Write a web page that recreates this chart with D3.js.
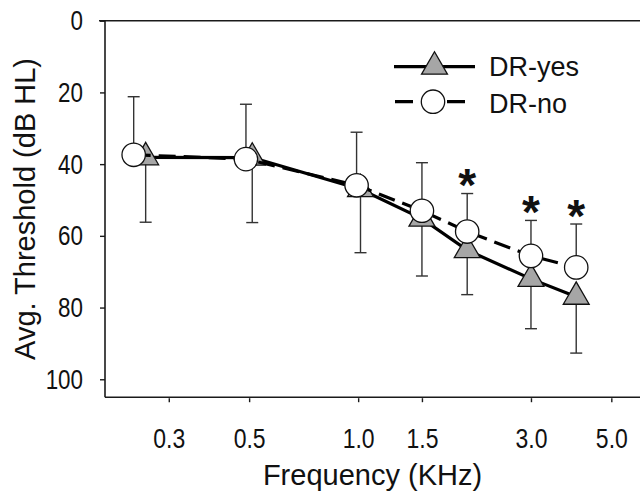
<!DOCTYPE html>
<html><head><meta charset="utf-8">
<script src="https://cdn.jsdelivr.net/npm/d3@7"></script>
<style>html,body{margin:0;padding:0;background:#fff;} svg{display:block}</style>
</head><body><svg id="chart" width="640" height="494"></svg>
<script>
// ---- data ----
const seriesNames = ["DR-yes", "DR-no"];
const freqYes = [0.259, 0.510, 1.015, 1.5, 2.0, 3.0, 4.0];   // kHz (slightly offset in the original)
const freqNo  = [0.240, 0.490, 0.990, 1.5, 2.0, 3.0, 4.0];
const meanYes = [38.1, 38.2, 47.0, 55.2, 64.0, 72.0, 77.0];   // dB HL
const sdYes   = [18.1, 18.1, 17.7, 16.0, 12.4, 13.9, 15.7];   // drawn downward
const meanNo  = [37.4, 38.6, 45.9, 53.0, 58.8, 65.6, 68.8];
const sdNo    = [16.2, 15.3, 14.8, 13.4, 10.6,  9.9, 12.1];   // drawn upward
const significant = [false, false, false, false, true, true, true];
const xTickValues = [0.3, 0.5, 1.0, 1.5, 3.0, 5.0];
const yTickValues = [0, 20, 40, 60, 80, 100];

(function () {
// ---- layout ----
const pLeft = 105, pRight = 640, pTop = 20.7, pBottom = 397.2;
const svg = d3.select("#chart");
const FONT = "'Liberation Sans', Arial, sans-serif";

const x = d3.scaleLog().domain([0.2, 6]).range([pLeft, pRight]);
const y = d3.scaleLinear().domain([0, 105]).range([pTop, pBottom]);

function squeeze(sel, f) {
  sel.each(function () {
    const w = this.getComputedTextLength();
    d3.select(this).attr("textLength", w * f).attr("lengthAdjust", "spacingAndGlyphs");
  });
}

// frame
const frame = svg.append("g").attr("stroke", "#1a1a1a").attr("stroke-width", 1.6).attr("fill", "none");
frame.append("line").attr("x1", pLeft - 6).attr("x2", pRight).attr("y1", y(0)).attr("y2", y(0));
frame.append("line").attr("x1", pLeft).attr("x2", pLeft).attr("y1", y(0)).attr("y2", pBottom);
frame.append("line").attr("x1", pLeft).attr("x2", pRight).attr("y1", pBottom).attr("y2", pBottom);

// y axis
const yAxis = svg.append("g").attr("transform", `translate(${pLeft},0)`)
  .call(d3.axisLeft(y).tickValues(yTickValues).tickSize(5).tickPadding(17).tickFormat(d3.format("d")));
yAxis.select(".domain").remove();
yAxis.selectAll(".tick line").attr("stroke", "#1a1a1a").attr("stroke-width", 1.4);
yAxis.selectAll(".tick text").attr("font-family", FONT).attr("font-size", 28).attr("fill", "#111");
squeeze(yAxis.selectAll(".tick text"), 0.8);

// x axis
const xAxis = svg.append("g").attr("transform", `translate(0,${pBottom + 1})`)
  .call(d3.axisBottom(x).tickValues(xTickValues).tickSize(4).tickPadding(26).tickFormat(d3.format(".1f")));
xAxis.select(".domain").remove();
xAxis.selectAll(".tick line").attr("stroke", "#1a1a1a").attr("stroke-width", 1.4);
xAxis.selectAll(".tick text").attr("font-family", FONT).attr("font-size", 28).attr("fill", "#111");
squeeze(xAxis.selectAll(".tick text"), 0.82);

// titles
svg.append("text").attr("x", (pLeft + pRight) / 2).attr("y", 485)
  .attr("text-anchor", "middle").attr("font-family", FONT).attr("font-size", 29).attr("fill", "#111")
  .text("Frequency (KHz)");
svg.append("text").attr("transform", `translate(35,${(pTop + pBottom) / 2}) rotate(-90)`)
  .attr("text-anchor", "middle").attr("font-family", FONT).attr("font-size", 29).attr("fill", "#111")
  .text("Avg. Threshold (dB HL)");

// data rows
const yes = freqYes.map((f, i) => ({ f, m: meanYes[i], e: meanYes[i] + sdYes[i] }));
const no = freqNo.map((f, i) => ({ f, m: meanNo[i], e: meanNo[i] - sdNo[i], sig: significant[i] }));

// error bars
const capW = 6;
const bars = svg.append("g").attr("stroke", "#333").attr("stroke-width", 1.4).attr("fill", "none");
[yes, no].forEach(rows => {
  rows.forEach(d => {
    const cx = x(d.f);
    bars.append("line").attr("x1", cx).attr("x2", cx).attr("y1", y(d.m)).attr("y2", y(d.e));
    bars.append("line").attr("x1", cx - capW).attr("x2", cx + capW).attr("y1", y(d.e)).attr("y2", y(d.e));
  });
});

const line = d3.line().x(d => x(d.f)).y(d => y(d.m));
const triSize = 290, circR = 11.7, triFill = "#a6a6a6";
const tri = d3.symbol(d3.symbolTriangle, triSize);

// DR-yes
svg.append("path").datum(yes).attr("d", line).attr("fill", "none").attr("stroke", "#000").attr("stroke-width", 3.2);
svg.append("g").selectAll("path").data(yes).join("path")
  .attr("d", tri).attr("transform", d => `translate(${x(d.f)},${y(d.m)})`)
  .attr("fill", triFill).attr("stroke", "#111").attr("stroke-width", 1.3);

// DR-no
svg.append("path").datum(no).attr("d", line).attr("fill", "none").attr("stroke", "#000")
  .attr("stroke-width", 3.2).attr("stroke-dasharray", "17,8");
svg.append("g").selectAll("circle").data(no).join("circle")
  .attr("cx", d => x(d.f)).attr("cy", d => y(d.m)).attr("r", circR)
  .attr("fill", "#fff").attr("stroke", "#111").attr("stroke-width", 1.3);

// significance asterisks
const astFs = 46;
svg.append("g").selectAll("text").data(no.filter(d => d.sig)).join("text")
  .attr("x", d => x(d.f)).attr("y", d => y(d.e) - 19 + 0.58 * astFs)
  .attr("text-anchor", "middle").attr("font-family", FONT).attr("font-weight", "bold")
  .attr("font-size", astFs).attr("fill", "#111").text("*");

// legend
const lg = svg.append("g");
const lx0 = 394, lx1 = 475, ly0 = 66.7, ly1 = 101.7, ltx = 489;
lg.append("line").attr("x1", lx0).attr("x2", lx1).attr("y1", ly0).attr("y2", ly0)
  .attr("stroke", "#000").attr("stroke-width", 3.2);
lg.append("path").attr("d", tri).attr("transform", `translate(${(lx0 + lx1) / 2},${ly0})`)
  .attr("fill", triFill).attr("stroke", "#111").attr("stroke-width", 1.3);
lg.append("line").attr("x1", lx0 + 1).attr("x2", 467).attr("y1", ly1).attr("y2", ly1)
  .attr("stroke", "#000").attr("stroke-width", 3.2).attr("stroke-dasharray", "18,8");
lg.append("circle").attr("cx", 433).attr("cy", ly1).attr("r", circR)
  .attr("fill", "#fff").attr("stroke", "#111").attr("stroke-width", 1.3);
lg.selectAll("text.lab").data(seriesNames).join("text").attr("class", "lab")
  .attr("x", ltx).attr("y", (d, i) => i === 0 ? 75.5 : 113)
  .attr("font-family", FONT).attr("font-size", 27).attr("fill", "#111").text(d => d);
})();
</script>
</body></html>
